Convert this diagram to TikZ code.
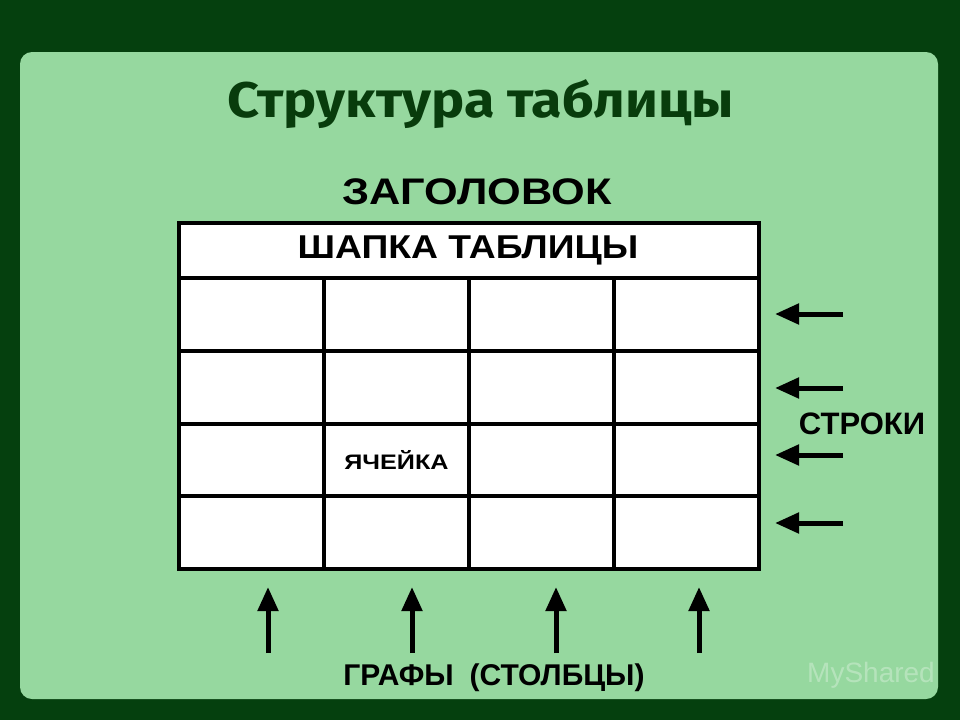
\documentclass[tikz,border=0pt]{standalone}
\usepackage{fontspec}
\setmainfont{Liberation Sans}
\newfontfamily\titlefont{Fira Sans}
\usetikzlibrary{arrows.meta}
\definecolor{darkbg}{RGB}{5,64,14}
\definecolor{panel}{RGB}{150,216,159}
\definecolor{titlegreen}{RGB}{8,60,12}
\tikzset{
  cell/.style={draw=black, line width=4pt, fill=white, minimum width=145pt, minimum height=73pt, inner sep=0pt, outer sep=0pt},
  lbl/.style={font=\bfseries\fontsize{#1}{#1}\selectfont, inner sep=0pt, text=black},
  arr/.style={line width=5pt, -{Triangle[length=24pt,width=20pt]}}
}
\begin{document}
\begin{tikzpicture}[x=1pt,y=-1pt]
\useasboundingbox (0,0) rectangle (960,720);
\fill[darkbg] (0,0) rectangle (960,720);
\fill[panel, rounded corners=12pt] (20,52) rectangle (938,699);

\node[font=\titlefont\bfseries\fontsize{50}{50}\selectfont, text=titlegreen, inner sep=0pt] (title) at (481,104) {\scalebox{1.115}[1]{Структура таблицы}};
\node[lbl=37] (zag) at (477,192) {\scalebox{1.17}[1]{ЗАГОЛОВОК}};

% table cells
\foreach \r/\y in {1/314.5,2/387.5,3/460,4/532}{
  \foreach \c/\x in {1/251.5,2/396.5,3/541.5,4/686.5}{
    \node[cell] (c\r\c) at (\x,\y) {};
  }
}
\node[cell, minimum width=580pt, minimum height=55pt] (head) at (469,250.5) {};
\node[lbl=33] (headtxt) at (468,250) {\scalebox{1.13}[1]{ШАПКА ТАБЛИЦЫ}};
\node[lbl=21] (yach) at (c32) {\scalebox{1.2}[1]{ЯЧЕЙКА}};

% row arrows
\foreach \i/\y in {1/314,2/388,3/455,4/523}{
  \coordinate (rs\i) at (843,\y);
  \coordinate (re\i) at (775,\y);
  \draw[arr] (rs\i) -- (re\i);
}
\node[lbl=31] (stroki) at (862,424) {СТРОКИ};

% column arrows
\foreach \i/\x in {1/268,2/412,3/556,4/699}{
  \coordinate (cs\i) at (\x,653);
  \coordinate (ce\i) at (\x,587);
  \draw[arr] (cs\i) -- (ce\i);
}
\node[lbl=30] (grafy) at (494,678) {ГРАФЫ\hspace{0.25em} (СТОЛБЦЫ)};

\node[font=\fontsize{28}{28}\selectfont, text=white, opacity=0.3, inner sep=0pt] (wm) at (871,675) {MyShared};
\end{tikzpicture}
\end{document}
